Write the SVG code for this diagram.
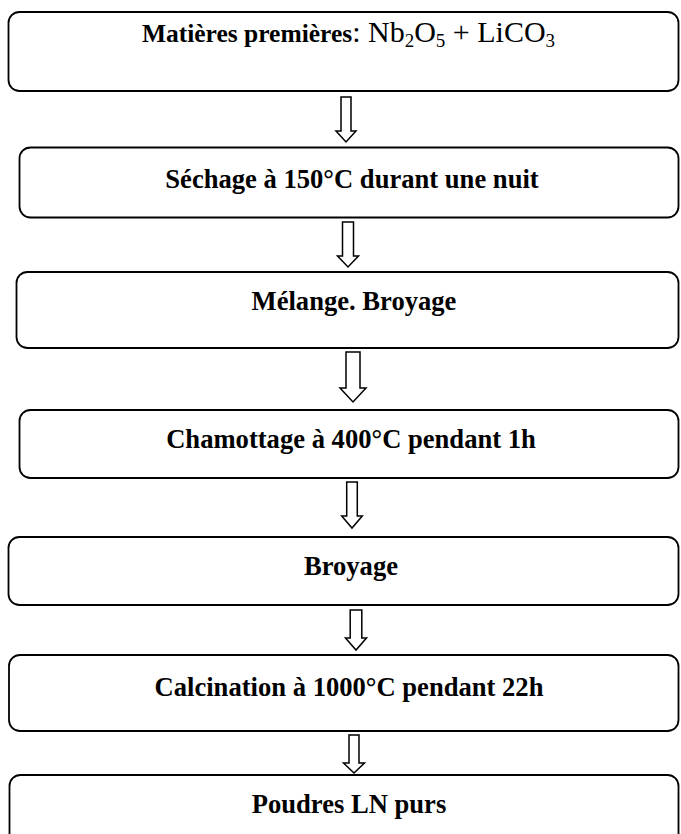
<svg xmlns="http://www.w3.org/2000/svg" width="681" height="834" viewBox="0 0 681 834">
<style>
.box{fill:#fff;stroke:#000;stroke-width:1.8}
.arr{fill:#fff;stroke:#000;stroke-width:1.5;stroke-linejoin:miter}
.t{font-family:"Liberation Serif","Times New Roman",serif;font-weight:bold;font-size:26.6px;fill:#000;text-anchor:middle}
.r{font-weight:normal;font-size:30px}
.s{font-size:19px}
</style>
<rect width="681" height="834" fill="#fff"/>
<g id="connectors">
<path class="arr" d="M341,97 H351 V131 H356 L346,142 L336,131 H341 Z"/>
<path class="arr" d="M342.5,222 H353.5 V256 H358.5 L348,267 L337.5,256 H342.5 Z"/>
<path class="arr" d="M346,352 H360 V388 H366 L353,402 L340,388 H346 Z"/>
<path class="arr" d="M346.7,482 H357.3 V516 H362.3 L352,528 L341.7,516 H346.7 Z"/>
<path class="arr" d="M350.2,610 H361.8 V638 H366.5 L356,650 L345.5,638 H350.2 Z"/>
<path class="arr" d="M349,735 H359 V763 H364.5 L354,773 L343.5,763 H349 Z"/>
</g>
<g id="n1">
<rect class="box" x="8.5" y="12" width="670" height="79" rx="11"/>
<text class="t" x="348.5" y="42" style="font-size:25.5px">Matières premières<tspan class="r">: Nb<tspan class="s" dy="5">2</tspan><tspan dy="-5">O</tspan><tspan class="s" dy="5">5</tspan><tspan dy="-5"> + LiCO</tspan><tspan class="s" dy="5">3</tspan></tspan></text>
</g>
<g id="n2">
<rect class="box" x="19.5" y="147.5" width="659" height="70" rx="11"/>
<text class="t" x="352" y="188">Séchage à 150°C durant une nuit</text>
</g>
<g id="n3">
<rect class="box" x="16.5" y="272" width="662" height="76" rx="11"/>
<text class="t" x="354" y="310">Mélange. Broyage</text>
</g>
<g id="n4">
<rect class="box" x="19.5" y="410" width="659" height="68" rx="11"/>
<text class="t" x="351" y="448">Chamottage à 400°C pendant 1h</text>
</g>
<g id="n5">
<rect class="box" x="8.5" y="537" width="670" height="68" rx="11"/>
<text class="t" x="351" y="575">Broyage</text>
</g>
<g id="n6">
<rect class="box" x="9" y="655" width="669.5" height="76" rx="11"/>
<text class="t" x="349" y="696">Calcination à 1000°C pendant 22h</text>
</g>
<g id="n7">
<rect class="box" x="9.5" y="775" width="669" height="75" rx="11"/>
<text class="t" x="349" y="813">Poudres LN purs</text>
</g>
</svg>
